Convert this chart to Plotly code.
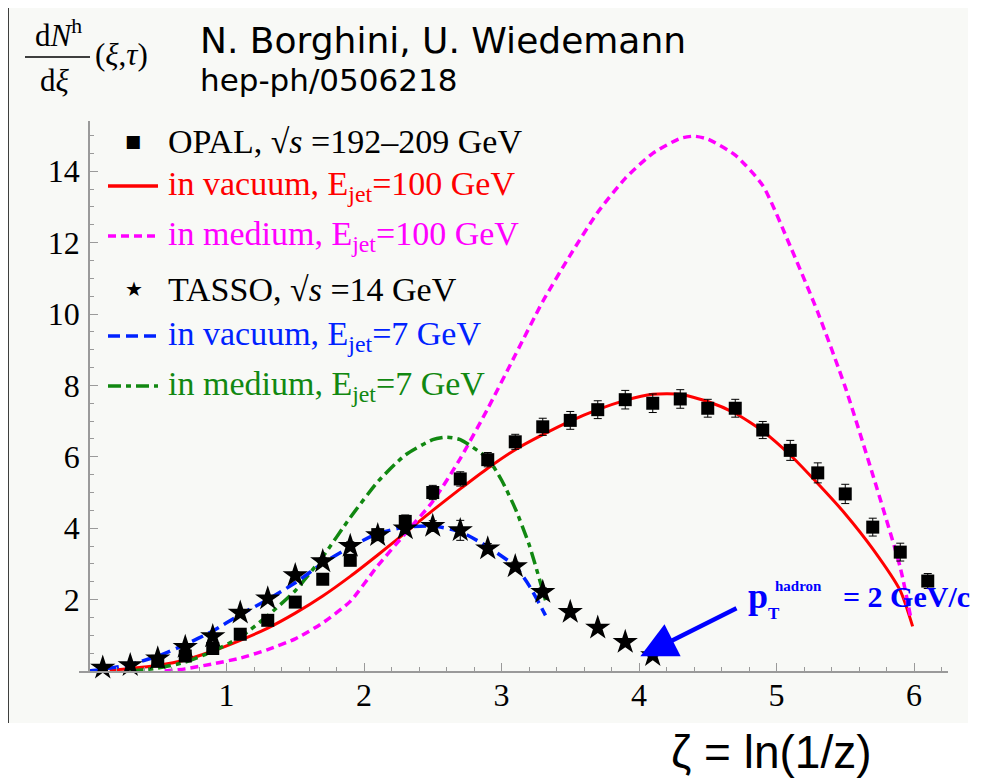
import plotly.graph_objects as go

# ---------------- data ----------------
opal_x = [0.5, 0.7, 0.9, 1.1, 1.3, 1.5, 1.7, 1.9, 2.1, 2.3, 2.5, 2.7, 2.9, 3.1, 3.3,
          3.5, 3.7, 3.9, 4.1, 4.3, 4.5, 4.7, 4.9, 5.1, 5.3, 5.5, 5.7, 5.9, 6.1]
opal_y = [0.27, 0.42, 0.63, 1.03, 1.42, 1.93, 2.57, 3.10, 3.82, 4.19, 5.00, 5.38, 5.92, 6.42, 6.84,
          7.02, 7.32, 7.60, 7.50, 7.62, 7.36, 7.36, 6.75, 6.18, 5.55, 4.96, 4.03, 3.33, 2.52]
opal_err = [0.03, 0.04, 0.08, 0.08, 0.10, 0.10, 0.12, 0.14, 0.15, 0.18, 0.20, 0.20, 0.20, 0.21, 0.24,
            0.25, 0.25, 0.26, 0.26, 0.26, 0.25, 0.25, 0.24, 0.28, 0.28, 0.27, 0.25, 0.25, 0.21]

tasso_x = [0.1, 0.3, 0.5, 0.7, 0.9, 1.1, 1.3, 1.5, 1.7, 1.9, 2.1, 2.3, 2.5, 2.7, 2.9,
           3.1, 3.3, 3.5, 3.7, 3.9, 4.1]
tasso_y = [0.09, 0.16, 0.35, 0.67, 0.97, 1.63, 2.03, 2.68, 3.07, 3.50, 3.80, 3.99, 4.06, 3.94, 3.43,
           2.93, 2.21, 1.65, 1.21, 0.81, 0.44]
tasso_err = [0.02, 0.03, 0.04, 0.05, 0.06, 0.08, 0.08, 0.10, 0.10, 0.12, 0.12, 0.14, 0.15, 0.28, 0.14,
             0.12, 0.12, 0.08, 0.06, 0.05, 0.04]

vac100_x = [0.15, 0.3, 0.5, 0.7, 0.9, 1.1, 1.3, 1.5, 1.7, 1.9, 2.1, 2.3, 2.5, 2.7, 2.9, 3.1, 3.3,
            3.5, 3.7, 3.9, 4.1, 4.3, 4.5, 4.7, 4.9, 5.1, 5.3, 5.5, 5.7, 5.9, 5.99]
vac100_y = [0.02, 0.07, 0.16, 0.31, 0.56, 0.86, 1.20, 1.62, 2.10, 2.65, 3.25, 3.87, 4.50, 5.10, 5.68,
            6.20, 6.62, 7.00, 7.32, 7.58, 7.75, 7.75, 7.55, 7.22, 6.72, 6.05, 5.25, 4.40, 3.42, 2.25, 1.25]

med100_x = [0.55, 0.7, 0.9, 1.1, 1.3, 1.5, 1.7, 1.9, 2.1, 2.3, 2.5, 2.7, 2.9, 3.1, 3.3, 3.5, 3.7,
            3.9, 4.1, 4.3, 4.4, 4.5, 4.7, 4.9, 5.1, 5.3, 5.5, 5.7, 5.9, 5.98]
med100_y = [0.0, 0.06, 0.20, 0.36, 0.60, 0.90, 1.35, 1.95, 2.95, 3.85, 4.75, 5.95, 7.35, 8.85, 10.35,
            11.65, 12.85, 13.80, 14.50, 14.92, 14.98, 14.90, 14.45, 13.60, 11.90, 10.05, 7.95, 5.50,
            2.90, 1.42]

vac7_x = [0.0, 0.1, 0.3, 0.5, 0.7, 0.9, 1.1, 1.3, 1.5, 1.7, 1.9, 2.1, 2.3, 2.5, 2.7, 2.9, 3.1,
          3.2, 3.32]
vac7_y = [0.0, 0.05, 0.18, 0.42, 0.74, 1.12, 1.58, 2.00, 2.47, 3.02, 3.47, 3.85, 4.03, 4.06, 3.90,
          3.48, 2.93, 2.40, 1.56]

med7_x = [0.3, 0.5, 0.7, 0.9, 1.1, 1.3, 1.5, 1.7, 1.9, 2.1, 2.3, 2.5, 2.6, 2.7, 2.9, 3.0, 3.1,
          3.2, 3.32]
med7_y = [0.0, 0.08, 0.25, 0.55, 0.95, 1.55, 2.25, 3.20, 4.30, 5.30, 6.05, 6.48, 6.55, 6.48, 5.95,
          5.35, 4.55, 3.55, 1.98]

x_ticks = [1, 2, 3, 4, 5, 6]
y_ticks = [2, 4, 6, 8, 10, 12, 14]

# ---------------- layout geometry (pixels, page coordinates) ----------------
OFF = 8                      # default body margin of the html page
W, H = 982 - OFF, 779 - OFF
L, T, PW, PH = 79, 121, 869, 550   # plot area in page pixels
X0 = -10 / 137.5
XR = [X0, X0 + PW / 137.5]
YR = [0, PH / 35.7]


def px(x):
    return (x - L) / PW


def py(y):
    return (T + PH - y) / PH


RED, MAG, BLUE, GREEN = "#ff0000", "#ff00ff", "#0022ff", "#118811"
SERIF = "Liberation Serif"

fig = go.Figure()

fig.add_trace(go.Scatter(x=vac100_x, y=vac100_y, mode="lines",
                         line=dict(color=RED, width=3, shape="spline", smoothing=0.6)))
fig.add_trace(go.Scatter(x=med100_x, y=med100_y, mode="lines",
                         line=dict(color=MAG, width=3.5, dash="8px,5px", shape="spline", smoothing=0.6)))
fig.add_trace(go.Scatter(x=med7_x, y=med7_y, mode="lines",
                         line=dict(color=GREEN, width=3.5, dash="13px,5px,5px,5px", shape="spline",
                                   smoothing=0.6)))
fig.add_trace(go.Scatter(x=vac7_x, y=vac7_y, mode="lines",
                         line=dict(color=BLUE, width=3.5, dash="12px,6px", shape="spline", smoothing=0.6)))
fig.add_trace(go.Scatter(x=opal_x, y=opal_y, mode="markers", cliponaxis=False,
                         marker=dict(symbol="square", size=13, color="black"),
                         error_y=dict(type="data", array=opal_err, color="black", thickness=1, width=4)))
fig.add_trace(go.Scatter(x=tasso_x, y=tasso_y, mode="markers", cliponaxis=False,
                         marker=dict(symbol="star", size=19, color="black", line=dict(width=0)),
                         error_y=dict(type="data", array=tasso_err, color="black", thickness=1, width=4)))

shapes = []
ann = []

# background frame
shapes.append(dict(type="rect", xref="paper", yref="paper", x0=px(8), x1=px(968), y0=py(723), y1=py(3),
                   fillcolor="#f8f9f6", line=dict(width=0), layer="below"))
shapes.append(dict(type="line", xref="paper", yref="paper", x0=px(8), x1=px(8), y0=py(723), y1=py(3),
                   line=dict(color="black", width=1.5)))
shapes.append(dict(type="line", xref="paper", yref="paper", x0=px(8), x1=px(968), y0=py(3), y1=py(3),
                   line=dict(color="black", width=1.5)))

# title
ann.append(dict(text="N. Borghini, U. Wiedemann", x=px(198), y=py(41), xref="paper", yref="paper",
                xanchor="left", yanchor="middle", showarrow=False,
                font=dict(family="DejaVu Sans", size=36, color="black")))
ann.append(dict(text="hep-ph/0506218", x=px(198), y=py(80), xref="paper", yref="paper",
                xanchor="left", yanchor="middle", showarrow=False,
                font=dict(family="DejaVu Sans", size=31, color="black")))

# y label (fraction)
ann.append(dict(text="d<i>N</i><sup>h</sup>", x=px(58), y=py(33), xref="paper", yref="paper",
                xanchor="center", yanchor="middle", showarrow=False,
                font=dict(family=SERIF, size=31, color="black")))
shapes.append(dict(type="line", xref="paper", yref="paper", x0=px(25), x1=px(90), y0=py(57), y1=py(57),
                   line=dict(color="black", width=1.3)))
ann.append(dict(text="d<i>ξ</i>", x=px(55), y=py(81), xref="paper", yref="paper",
                xanchor="center", yanchor="middle", showarrow=False,
                font=dict(family=SERIF, size=31, color="black")))
ann.append(dict(text="(<i>ξ</i>,<i>τ</i>)", x=px(93), y=py(55), xref="paper", yref="paper",
                xanchor="left", yanchor="middle", showarrow=False,
                font=dict(family=SERIF, size=31, color="black")))

# legend
legend_rows = [
    (141, "OPAL, √<i>s</i> =192–209 GeV", "black", "square"),
    (186, "in vacuum, E<sub>jet</sub>=100 GeV", RED, "solid"),
    (236, "in medium, E<sub>jet</sub>=100 GeV", MAG, "8px,5px"),
    (289, "TASSO, √<i>s</i> =14 GeV", "black", "star"),
    (336, "in vacuum, E<sub>jet</sub>=7 GeV", BLUE, "12px,6px"),
    (386, "in medium, E<sub>jet</sub>=7 GeV", GREEN, "13px,5px,5px,5px"),
]
for yy, txt, col, sym in legend_rows:
    ann.append(dict(text=txt, x=px(166), y=py(yy), xref="paper", yref="paper",
                    xanchor="left", yanchor="middle", showarrow=False,
                    font=dict(family=SERIF, size=34, color=col)))
    if sym == "square":
        ann.append(dict(text="■", x=px(133), y=py(yy), xref="paper", yref="paper",
                        xanchor="center", yanchor="middle", showarrow=False,
                        font=dict(family="DejaVu Sans", size=17, color="black")))
    elif sym == "star":
        ann.append(dict(text="★", x=px(134), y=py(yy), xref="paper", yref="paper",
                        xanchor="center", yanchor="middle", showarrow=False,
                        font=dict(family="DejaVu Sans", size=20, color="black")))
    else:
        shapes.append(dict(type="line", xref="paper", yref="paper", x0=px(108), x1=px(158),
                           y0=py(yy), y1=py(yy), line=dict(color=col, width=3.5, dash=sym)))

# arrow annotation
ann.append(dict(text="", x=4.01, y=0.41, xref="x", yref="y", ax=4.72, ay=1.78, axref="x", ayref="y",
                showarrow=True, arrowhead=2, arrowsize=1.6, arrowwidth=4.5, arrowcolor="#0000ff"))
ann.append(dict(text="<b>p</b>", x=px(758), y=py(596), xref="paper", yref="paper",
                xanchor="center", yanchor="middle", showarrow=False,
                font=dict(family=SERIF, size=36, color="#0000ff")))
ann.append(dict(text="<b>T</b>", x=px(774), y=py(613), xref="paper", yref="paper",
                xanchor="center", yanchor="middle", showarrow=False,
                font=dict(family=SERIF, size=17, color="#0000ff")))
ann.append(dict(text="<b>hadron</b>", x=px(798), y=py(586), xref="paper", yref="paper",
                xanchor="center", yanchor="middle", showarrow=False,
                font=dict(family=SERIF, size=15, color="#0000ff")))
ann.append(dict(text="<b>= 2 GeV/c</b>", x=px(841), y=py(596), xref="paper", yref="paper",
                xanchor="left", yanchor="middle", showarrow=False,
                font=dict(family=SERIF, size=30, color="#0000ff")))

# x axis title
ann.append(dict(text="ζ = ln(1/z)", x=px(771), y=py(752), xref="paper", yref="paper",
                xanchor="center", yanchor="middle", showarrow=False,
                font=dict(family="Liberation Sans", size=46, color="black")))

AX = "#9a9a9a"
fig.update_layout(
    width=W, height=H,
    margin=dict(l=L - OFF, r=W - (L - OFF) - PW, t=T - OFF, b=H - (T - OFF) - PH, pad=0),
    paper_bgcolor="white", plot_bgcolor="#f8f9f6",
    showlegend=False,
    shapes=shapes, annotations=ann,
    xaxis=dict(range=XR, showgrid=False, zeroline=False, showline=True, linecolor=AX, linewidth=1.5,
               ticks="inside", ticklen=8, tickcolor=AX, tickwidth=1,
               tickmode="array", tickvals=x_ticks, ticktext=[str(v) for v in x_ticks],
               minor=dict(ticks="inside", ticklen=4, tickcolor=AX, dtick=0.2, tick0=0, showgrid=False),
               tickfont=dict(family=SERIF, size=32, color="black"), ticklabelstandoff=-5),
    yaxis=dict(range=YR, anchor="free", position=10 / PW, showgrid=False, zeroline=False,
               showline=True, linecolor=AX, linewidth=1.5,
               ticks="inside", ticklen=8, tickcolor=AX, tickwidth=1,
               tickmode="array", tickvals=y_ticks, ticktext=[str(v) for v in y_ticks],
               minor=dict(ticks="inside", ticklen=4, tickcolor=AX, dtick=0.5, tick0=0, showgrid=False),
               tickfont=dict(family=SERIF, size=32, color="black"), ticklabelstandoff=2),
)

fig.write_html("out.html")
